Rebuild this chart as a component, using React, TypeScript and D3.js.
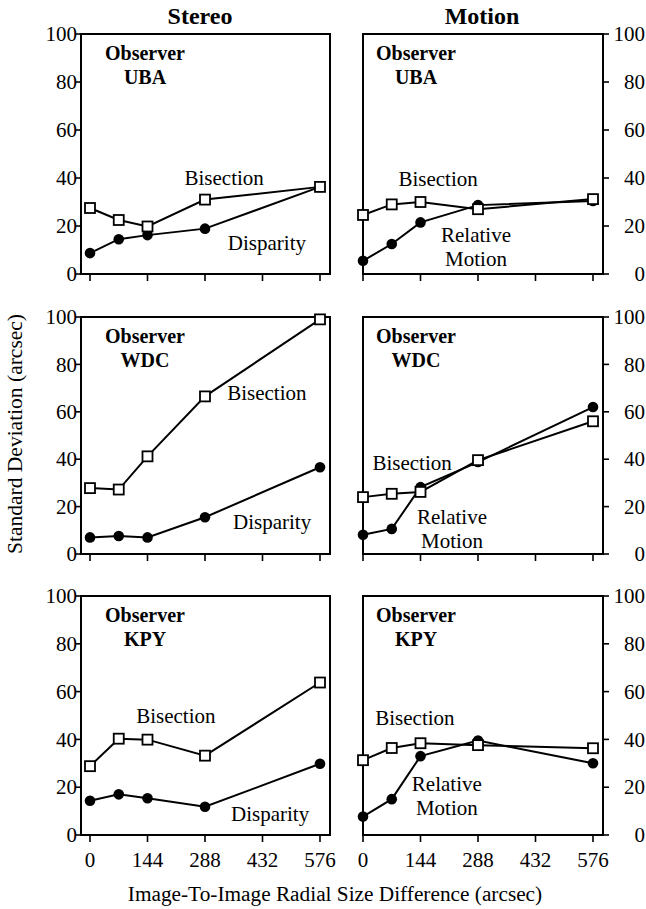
import React, { useEffect, useRef } from 'react';
import * as d3 from 'd3';

// Image-to-image radial size differences (arcsec) where thresholds were measured
const sizeDiffs = [0, 72, 144, 288, 576];
const xTicks = [0, 144, 288, 432, 576];
const yTicks = [0, 20, 40, 60, 80, 100];
const columnTitles = ['Stereo', 'Motion'];
const observers = ['UBA', 'WDC', 'KPY'];

// Standard deviations (arcsec)
const ubaStereoBisection = [27.5, 22.5, 19.8, 31, 36.3];
const ubaDisparity = [8.7, 14.5, 16.2, 18.9, 36.3];
const ubaMotionBisection = [24.6, 29, 30, 27, 31.2];
const ubaRelativeMotion = [5.5, 12.5, 21.5, 28.7, 30.4];

const wdcStereoBisection = [27.8, 27.2, 41.2, 66.5, 99];
const wdcDisparity = [7, 7.6, 7, 15.5, 36.6];
const wdcMotionBisection = [24, 25.4, 26.2, 39.6, 56];
const wdcRelativeMotion = [8.1, 10.6, 28.2, 38.8, 62];

const kpyStereoBisection = [28.8, 40.3, 39.9, 33.2, 63.8];
const kpyDisparity = [14.3, 17, 15.4, 11.8, 29.8];
const kpyMotionBisection = [31.3, 36.4, 38.4, 37.6, 36.3];
const kpyRelativeMotion = [7.7, 15, 33, 39.5, 30];

// Curve labels, placed in data units: [text lines, x, y]
const ubaStereoLabels = [[['Bisection'], 336, 37], [['Disparity'], 443, 10]];
const ubaMotionLabels = [[['Bisection'], 188, 36.7], [['Relative', 'Motion'], 283, 13.3]];
const wdcStereoLabels = [[['Bisection'], 443, 65], [['Disparity'], 456, 10.5]];
const wdcMotionLabels = [[['Bisection'], 123, 35.4], [['Relative', 'Motion'], 223, 12.7]];
const kpyStereoLabels = [[['Bisection'], 215, 46.9], [['Disparity'], 451, 5.9]];
const kpyMotionLabels = [[['Bisection'], 130, 46], [['Relative', 'Motion'], 210, 18.4]];

const App = () => {
  const chartRef = useRef(null);

  useEffect(() => {
    const width = 646;
    const height = 909;
    const font = 'Liberation Serif, DejaVu Serif, serif';

    const svg = d3.select(chartRef.current)
      .attr('width', width)
      .attr('height', height)
      .attr('font-family', font);
    svg.selectAll('*').remove();

    // panel frames (pixels) for the two columns and three rows
    const columns = [
      { left: 81, right: 330, x0: 90, x1: 320, obsX: 145 },
      { left: 363, right: 603, x0: 363, x1: 593, obsX: 416 }
    ];
    const rows = [
      { top: 34, bottom: 274 },
      { top: 317, bottom: 554 },
      { top: 596, bottom: 835 }
    ];

    const panels = [
      [ubaStereoBisection, ubaDisparity, ubaStereoLabels],
      [ubaMotionBisection, ubaRelativeMotion, ubaMotionLabels],
      [wdcStereoBisection, wdcDisparity, wdcStereoLabels],
      [wdcMotionBisection, wdcRelativeMotion, wdcMotionLabels],
      [kpyStereoBisection, kpyDisparity, kpyStereoLabels],
      [kpyMotionBisection, kpyRelativeMotion, kpyMotionLabels]
    ];

    panels.forEach((p, i) => {
      const row = rows[Math.floor(i / 2)];
      const col = columns[i % 2];
      const [bisection, other, labels] = p;

      const x = d3.scaleLinear().domain([0, 576]).range([col.x0, col.x1]);
      const y = d3.scaleLinear().domain([0, 100]).range([row.bottom, row.top]);

      const g = svg.append('g');

      // frame
      g.append('rect')
        .attr('x', col.left)
        .attr('y', row.top)
        .attr('width', col.right - col.left)
        .attr('height', row.bottom - row.top)
        .attr('fill', 'none')
        .attr('stroke', '#000')
        .attr('stroke-width', 2);

      // x ticks (outward, down)
      g.selectAll('.xtick')
        .data(xTicks)
        .enter()
        .append('line')
        .attr('x1', d => x(d))
        .attr('x2', d => x(d))
        .attr('y1', row.bottom)
        .attr('y2', row.bottom + 7)
        .attr('stroke', '#000')
        .attr('stroke-width', 1.6);

      // x tick labels only on the bottom row
      if (i >= 4) {
        g.selectAll('.xlabel')
          .data(xTicks)
          .enter()
          .append('text')
          .attr('x', d => x(d))
          .attr('y', 867)
          .attr('text-anchor', 'middle')
          .attr('font-size', 21)
          .text(d => d);
      }

      // y ticks: left side for stereo, right side for motion
      const isLeft = i % 2 === 0;
      const axisX = isLeft ? col.left : col.right;
      g.selectAll('.ytick')
        .data(yTicks)
        .enter()
        .append('line')
        .attr('x1', axisX)
        .attr('x2', isLeft ? axisX - 5 : axisX + 6)
        .attr('y1', d => y(d))
        .attr('y2', d => y(d))
        .attr('stroke', '#000')
        .attr('stroke-width', 1.6);

      g.selectAll('.ylabel')
        .data(yTicks)
        .enter()
        .append('text')
        .attr('x', isLeft ? 77 : 645)
        .attr('y', d => y(d))
        .attr('dy', '0.34em')
        .attr('text-anchor', 'end')
        .attr('font-size', 21)
        .text(d => d);

      // observer name, two separate lines
      g.append('text')
        .attr('x', col.obsX)
        .attr('y', row.top + 26)
        .attr('text-anchor', 'middle')
        .attr('font-size', 20)
        .attr('font-weight', 'bold')
        .text('Observer');
      g.append('text')
        .attr('x', col.obsX)
        .attr('y', row.top + 50)
        .attr('text-anchor', 'middle')
        .attr('font-size', 20)
        .attr('font-weight', 'bold')
        .text(observers[Math.floor(i / 2)]);

      const line = d3.line()
        .x((d, k) => x(sizeDiffs[k]))
        .y(d => y(d));

      // lines first, then filled circles, then open squares on top
      [other, bisection].forEach(series => {
        g.append('path')
          .datum(series)
          .attr('d', line)
          .attr('fill', 'none')
          .attr('stroke', '#000')
          .attr('stroke-width', 2);
      });

      g.selectAll('.dot')
        .data(other)
        .enter()
        .append('circle')
        .attr('cx', (d, k) => x(sizeDiffs[k]))
        .attr('cy', d => y(d))
        .attr('r', 5.3)
        .attr('fill', '#000');

      g.selectAll('.square')
        .data(bisection)
        .enter()
        .append('rect')
        .attr('x', (d, k) => x(sizeDiffs[k]) - 5)
        .attr('y', d => y(d) - 5)
        .attr('width', 10)
        .attr('height', 10)
        .attr('fill', '#fff')
        .attr('stroke', '#000')
        .attr('stroke-width', 1.8);

      // curve labels
      labels.forEach(([lines, lx, ly]) => {
        lines.forEach((s, k) => {
          g.append('text')
            .attr('text-anchor', 'middle')
            .attr('font-size', 21)
            .attr('x', x(lx))
            .attr('y', y(ly) + k * 24)
            .text(s);
        });
      });
    });

    // column titles
    columnTitles.forEach((title, c) => {
      svg.append('text')
        .attr('x', c === 0 ? 200 : 482)
        .attr('y', 24)
        .attr('text-anchor', 'middle')
        .attr('font-size', 24)
        .attr('font-weight', 'bold')
        .text(title);
    });

    // axis titles
    svg.append('text')
      .attr('transform', 'translate(22,434) rotate(-90)')
      .attr('text-anchor', 'middle')
      .attr('font-size', 21.5)
      .text('Standard Deviation (arcsec)');

    svg.append('text')
      .attr('x', 335)
      .attr('y', 901)
      .attr('text-anchor', 'middle')
      .attr('font-size', 21.3)
      .text('Image-To-Image Radial Size Difference (arcsec)');
  }, []);

  return (
    <svg ref={chartRef} style={{ position: 'absolute', left: 0, top: 0, background: '#fff' }}></svg>
  );
};

export default App;
